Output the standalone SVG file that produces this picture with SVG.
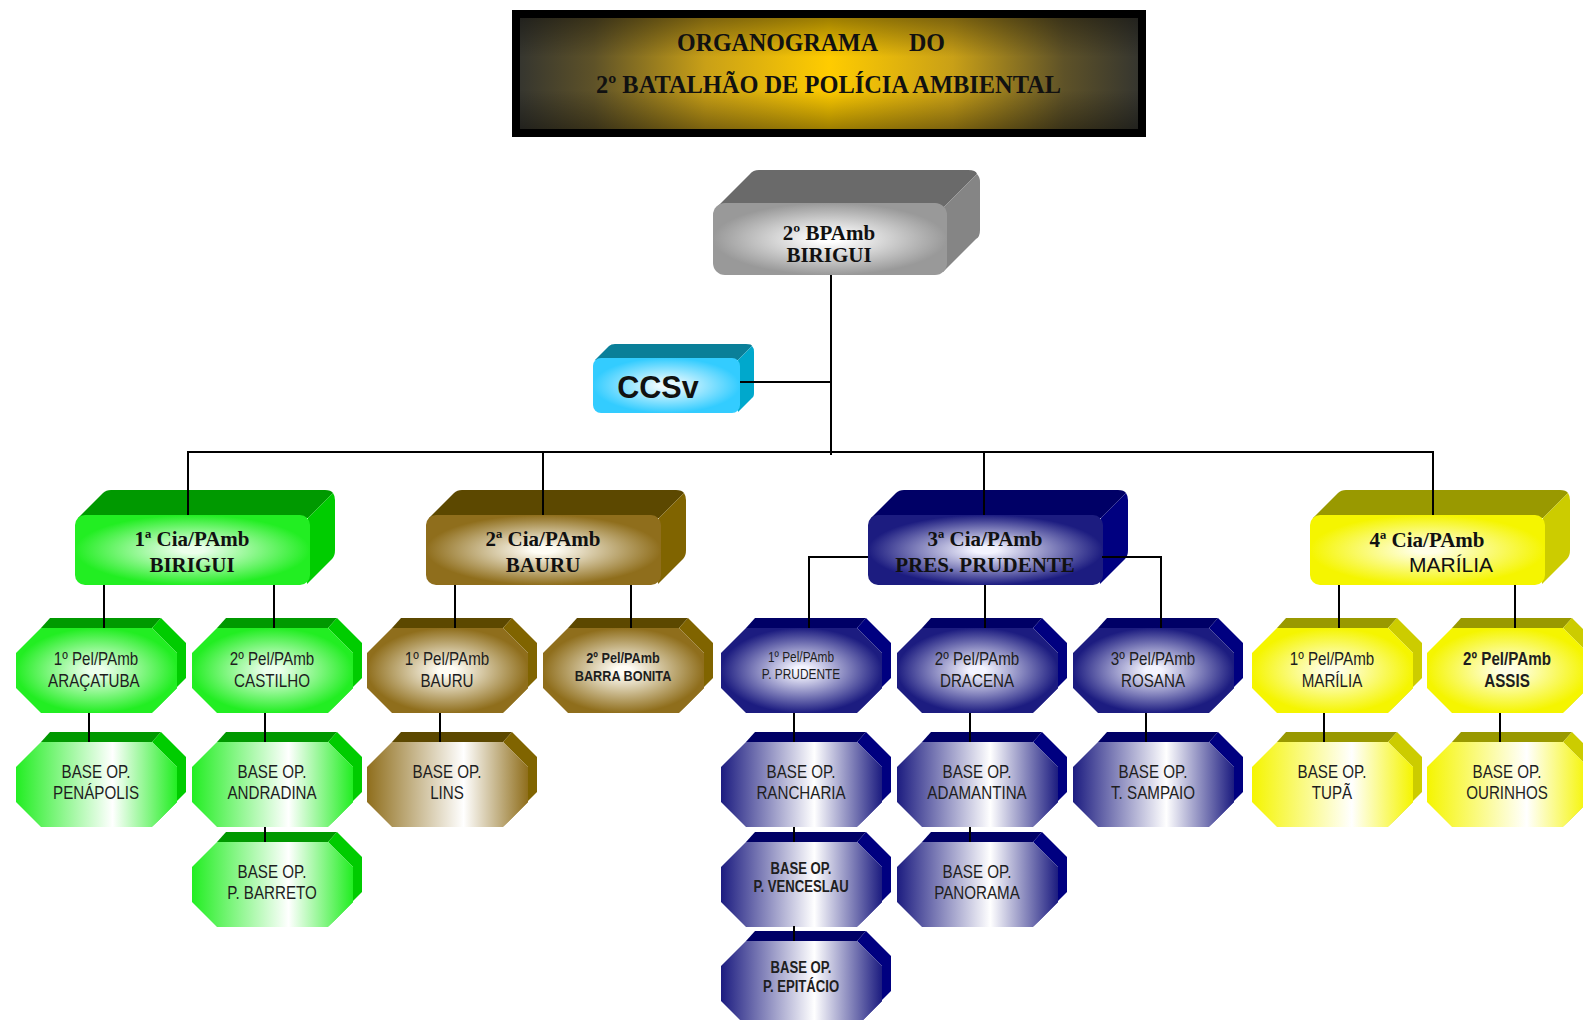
<svg xmlns="http://www.w3.org/2000/svg" width="1583" height="1020" viewBox="0 0 1583 1020">
<defs>
<style>
.serif{font-family:"Liberation Serif","Times New Roman",serif;font-weight:bold;fill:#111;text-anchor:middle}
.ttl{font-family:"Liberation Serif","Times New Roman",serif;font-weight:bold;fill:#111;font-size:25px}
.sans{font-family:"Liberation Sans",Arial,sans-serif;fill:#111;text-anchor:middle}
.nar{font-family:"Liberation Sans Narrow","Liberation Sans",Arial,sans-serif;font-size:18.5px;fill:#1e1e1e;text-anchor:middle}
.nar.sm{font-size:14.5px}
.nar.b{font-weight:bold}
.nar.m{font-size:15.5px}
.nar.l{font-size:16px}
.conn line,.conn polyline{stroke:#000;stroke-width:2;fill:none}
.gT{fill:#009900}.gR{fill:#00cc00}
.bT{fill:#5c4800}.bR{fill:#806400}
.nT{fill:#000066}.nR{fill:#000080}
.yT{fill:#999900}.yR{fill:#cccc00}
</style>
<linearGradient id="titleH" x1="0" y1="0" x2="1" y2="0">
<stop offset="0" stop-color="#36362f"/><stop offset="0.12" stop-color="#5e5228"/><stop offset="0.3" stop-color="#c9a017"/><stop offset="0.5" stop-color="#ffcc00"/><stop offset="0.7" stop-color="#c9a017"/><stop offset="0.88" stop-color="#5e5228"/><stop offset="1" stop-color="#36362f"/>
</linearGradient>
<linearGradient id="titleV" x1="0" y1="0" x2="0" y2="1">
<stop offset="0" stop-color="#000" stop-opacity="0.38"/><stop offset="0.35" stop-color="#000" stop-opacity="0"/><stop offset="0.65" stop-color="#000" stop-opacity="0"/><stop offset="1" stop-color="#000" stop-opacity="0.38"/>
</linearGradient>
<radialGradient id="grayR" cx="0.5" cy="0.5" r="0.5"><stop offset="0.1" stop-color="#ffffff"/><stop offset="1" stop-color="#999999"/></radialGradient>
<radialGradient id="cyanR" cx="0.5" cy="0.5" r="0.5"><stop offset="0.1" stop-color="#eefbff"/><stop offset="1" stop-color="#33ccff"/></radialGradient>
<radialGradient id="greenR" cx="0.5" cy="0.5" r="0.5"><stop offset="0.1" stop-color="#ecffec"/><stop offset="1" stop-color="#22ee22"/></radialGradient>
<radialGradient id="brownR" cx="0.5" cy="0.5" r="0.5"><stop offset="0.1" stop-color="#fffdf5"/><stop offset="1" stop-color="#8f6e1c"/></radialGradient>
<radialGradient id="navyR" cx="0.5" cy="0.5" r="0.5"><stop offset="0.1" stop-color="#f4f4ff"/><stop offset="1" stop-color="#1c1c80"/></radialGradient>
<radialGradient id="yellowR" cx="0.5" cy="0.5" r="0.5"><stop offset="0.1" stop-color="#ffffe6"/><stop offset="1" stop-color="#f5f500"/></radialGradient>
<linearGradient id="greenL" x1="0" y1="0" x2="1" y2="0"><stop offset="0" stop-color="#22ee22"/><stop offset="0.6" stop-color="#ffffff"/><stop offset="1" stop-color="#22ee22"/></linearGradient>
<linearGradient id="brownL" x1="0" y1="0" x2="1" y2="0"><stop offset="0" stop-color="#8f6e1c"/><stop offset="0.6" stop-color="#ffffff"/><stop offset="1" stop-color="#8f6e1c"/></linearGradient>
<linearGradient id="navyL" x1="0" y1="0" x2="1" y2="0"><stop offset="0" stop-color="#1c1c80"/><stop offset="0.58" stop-color="#ffffff"/><stop offset="1" stop-color="#1c1c80"/></linearGradient>
<linearGradient id="yellowL" x1="0" y1="0" x2="1" y2="0"><stop offset="0" stop-color="#f5f500"/><stop offset="0.62" stop-color="#ffffff"/><stop offset="1" stop-color="#f5f500"/></linearGradient>
<path id="oF" d="M25,0H136L161,25V60L136,85H25L0,60V25Z"/>
<path id="oT" d="M25,0L34,-10H145L136,0Z"/>
<path id="oR" d="M136,0L145,-10L170,15V50L145,75L136,85L161,60V25Z"/>
<rect id="cF" x="0" y="0" width="235" height="70" rx="10"/>
<path id="cT" d="M3,3L28,-22Q31,-25 36,-25H250Q256,-25 258,-22L233,3Z"/>
<path id="cR" d="M233,3L258,-22Q260,-19 260,-15V35Q260,41 257,44L232,69Z"/>
</defs>

<g id="title">
<rect x="512" y="10" width="634" height="127" fill="#000"/>
<rect x="520" y="18" width="618" height="111" fill="url(#titleH)"/>
<rect x="520" y="18" width="618" height="111" fill="url(#titleV)"/>
<text class="ttl" x="677" y="51" textLength="201" lengthAdjust="spacingAndGlyphs">ORGANOGRAMA</text>
<text class="ttl" x="909" y="51" textLength="36" lengthAdjust="spacingAndGlyphs">DO</text>
<text class="ttl" x="596" y="93" textLength="465" lengthAdjust="spacingAndGlyphs">2º BATALHÃO DE POLÍCIA AMBIENTAL</text>
</g>

<g id="bpamb" transform="translate(713,203)">
<path d="M4,4L37,-29Q40,-33 46,-33H255Q263,-33 264,-29L231,4Z" fill="#6a6a6a"/>
<path d="M231,4L264,-29Q267,-26 267,-21V27Q267,34 263,36L230,69Z" fill="#858585"/>
<rect width="234" height="72" rx="12" fill="url(#grayR)"/>
<text class="serif" x="116" y="37" font-size="21">2º BPAmb</text>
<text class="serif" x="116" y="59" font-size="21">BIRIGUI</text>
</g>

<g id="ccsv" transform="translate(593,358)">
<path d="M2,2L16,-12Q18,-14 22,-14H153Q159,-14 159,-12L145,2Z" fill="#0a7f99"/>
<path d="M145,2L159,-12Q161,-10 161,-6V35Q161,39 159,40L145,54Z" fill="#00a8cc"/>
<rect width="147" height="55" rx="8" fill="url(#cyanR)"/>
<text class="sans" x="65" y="40" font-size="30.5" font-weight="bold">CCSv</text>
</g>

<g id="cia1" transform="translate(75,515)">
<use href="#cT" class="gT"/><use href="#cR" class="gR"/><use href="#cF" fill="url(#greenR)"/>
<text class="serif" x="117" y="31" font-size="21">1ª Cia/PAmb</text>
<text class="serif" x="117" y="57" font-size="21">BIRIGUI</text>
</g>
<g id="cia2" transform="translate(426,515)">
<use href="#cT" class="bT"/><use href="#cR" class="bR"/><use href="#cF" fill="url(#brownR)"/>
<text class="serif" x="117" y="31" font-size="21">2ª Cia/PAmb</text>
<text class="serif" x="117" y="57" font-size="21">BAURU</text>
</g>
<g id="cia3" transform="translate(868,515)">
<use href="#cT" class="nT"/><use href="#cR" class="nR"/><use href="#cF" fill="url(#navyR)"/>
<text class="serif" x="117" y="31" font-size="21">3ª Cia/PAmb</text>
<text class="serif" x="117" y="57" font-size="21">PRES. PRUDENTE</text>
</g>
<g id="cia4" transform="translate(1310,515)">
<use href="#cT" class="yT"/><use href="#cR" class="yR"/><use href="#cF" fill="url(#yellowR)"/>
<text class="serif" x="117" y="32" font-size="21">4ª Cia/PAmb</text>
<text class="sans" x="141" y="57" font-size="21">MARÍLIA</text>
</g>

<!-- Green -->
<g id="pel-aracatuba" transform="translate(16,628)"><use href="#oT" class="gT"/><use href="#oR" class="gR"/><use href="#oF" fill="url(#greenR)"/>
<text class="nar" x="97.6" y="37" transform="scale(0.82 1)">1º Pel/PAmb</text><text class="nar" x="95" y="59" transform="scale(0.82 1)">ARAÇATUBA</text></g>
<g id="base-penapolis" transform="translate(16,742)"><use href="#oT" class="gT"/><use href="#oR" class="gR"/><use href="#oF" fill="url(#greenL)"/>
<text class="nar" x="97.6" y="36" transform="scale(0.82 1)">BASE OP.</text><text class="nar" x="97.6" y="57" transform="scale(0.82 1)">PENÁPOLIS</text></g>
<g id="pel-castilho" transform="translate(192,628)"><use href="#oT" class="gT"/><use href="#oR" class="gR"/><use href="#oF" fill="url(#greenR)"/>
<text class="nar" x="97.6" y="37" transform="scale(0.82 1)">2º Pel/PAmb</text><text class="nar" x="97.6" y="59" transform="scale(0.82 1)">CASTILHO</text></g>
<g id="base-andradina" transform="translate(192,742)"><use href="#oT" class="gT"/><use href="#oR" class="gR"/><use href="#oF" fill="url(#greenL)"/>
<text class="nar" x="97.6" y="36" transform="scale(0.82 1)">BASE OP.</text><text class="nar" x="97.6" y="57" transform="scale(0.82 1)">ANDRADINA</text></g>
<g id="base-pbarreto" transform="translate(192,842)"><use href="#oT" class="gT"/><use href="#oR" class="gR"/><use href="#oF" fill="url(#greenL)"/>
<text class="nar" x="97.6" y="36" transform="scale(0.82 1)">BASE OP.</text><text class="nar" x="97.6" y="57" transform="scale(0.82 1)">P. BARRETO</text></g>

<!-- Brown -->
<g id="pel-bauru" transform="translate(367,628)"><use href="#oT" class="bT"/><use href="#oR" class="bR"/><use href="#oF" fill="url(#brownR)"/>
<text class="nar" x="97.6" y="37" transform="scale(0.82 1)">1º Pel/PAmb</text><text class="nar" x="97.6" y="59" transform="scale(0.82 1)">BAURU</text></g>
<g id="base-lins" transform="translate(367,742)"><use href="#oT" class="bT"/><use href="#oR" class="bR"/><use href="#oF" fill="url(#brownL)"/>
<text class="nar" x="97.6" y="36" transform="scale(0.82 1)">BASE OP.</text><text class="nar" x="97.6" y="57" transform="scale(0.82 1)">LINS</text></g>
<g id="pel-barrabonita" transform="translate(543,628)"><use href="#oT" class="bT"/><use href="#oR" class="bR"/><use href="#oF" fill="url(#brownR)"/>
<text class="nar m b" x="97.6" y="35" transform="scale(0.82 1)">2º Pel/PAmb</text><text class="nar m b" x="97.6" y="53" transform="scale(0.82 1)">BARRA BONITA</text></g>

<!-- Navy -->
<g id="pel-pprudente" transform="translate(721,628)"><use href="#oT" class="nT"/><use href="#oR" class="nR"/><use href="#oF" fill="url(#navyR)"/>
<text class="nar sm" x="97.6" y="34" transform="scale(0.82 1)">1º Pel/PAmb</text><text class="nar sm" x="97.6" y="51.5" transform="scale(0.82 1)">P. PRUDENTE</text></g>
<g id="base-rancharia" transform="translate(721,742)"><use href="#oT" class="nT"/><use href="#oR" class="nR"/><use href="#oF" fill="url(#navyL)"/>
<text class="nar" x="97.6" y="36" transform="scale(0.82 1)">BASE OP.</text><text class="nar" x="97.6" y="57" transform="scale(0.82 1)">RANCHARIA</text></g>
<g id="base-pvenceslau" transform="translate(721,842)"><use href="#oT" class="nT"/><use href="#oR" class="nR"/><use href="#oF" fill="url(#navyL)"/>
<text class="nar l b" x="97.6" y="32" transform="scale(0.82 1)">BASE OP.</text><text class="nar l b" x="97.6" y="50.5" transform="scale(0.82 1)">P. VENCESLAU</text></g>
<g id="base-pepitacio" transform="translate(721,941)"><use href="#oT" class="nT"/><use href="#oR" class="nR"/><use href="#oF" fill="url(#navyL)"/>
<text class="nar l b" x="97.6" y="32.5" transform="scale(0.82 1)">BASE OP.</text><text class="nar l b" x="97.6" y="51.5" transform="scale(0.82 1)">P. EPITÁCIO</text></g>
<g id="pel-dracena" transform="translate(897,628)"><use href="#oT" class="nT"/><use href="#oR" class="nR"/><use href="#oF" fill="url(#navyR)"/>
<text class="nar" x="97.6" y="37" transform="scale(0.82 1)">2º Pel/PAmb</text><text class="nar" x="97.6" y="59" transform="scale(0.82 1)">DRACENA</text></g>
<g id="base-adamantina" transform="translate(897,742)"><use href="#oT" class="nT"/><use href="#oR" class="nR"/><use href="#oF" fill="url(#navyL)"/>
<text class="nar" x="97.6" y="36" transform="scale(0.82 1)">BASE OP.</text><text class="nar" x="97.6" y="57" transform="scale(0.82 1)">ADAMANTINA</text></g>
<g id="base-panorama" transform="translate(897,842)"><use href="#oT" class="nT"/><use href="#oR" class="nR"/><use href="#oF" fill="url(#navyL)"/>
<text class="nar" x="97.6" y="36" transform="scale(0.82 1)">BASE OP.</text><text class="nar" x="97.6" y="57" transform="scale(0.82 1)">PANORAMA</text></g>
<g id="pel-rosana" transform="translate(1073,628)"><use href="#oT" class="nT"/><use href="#oR" class="nR"/><use href="#oF" fill="url(#navyR)"/>
<text class="nar" x="97.6" y="37" transform="scale(0.82 1)">3º Pel/PAmb</text><text class="nar" x="97.6" y="59" transform="scale(0.82 1)">ROSANA</text></g>
<g id="base-tsampaio" transform="translate(1073,742)"><use href="#oT" class="nT"/><use href="#oR" class="nR"/><use href="#oF" fill="url(#navyL)"/>
<text class="nar" x="97.6" y="36" transform="scale(0.82 1)">BASE OP.</text><text class="nar" x="97.6" y="57" transform="scale(0.82 1)">T. SAMPAIO</text></g>

<!-- Yellow -->
<g id="pel-marilia" transform="translate(1252,628)"><use href="#oT" class="yT"/><use href="#oR" class="yR"/><use href="#oF" fill="url(#yellowR)"/>
<text class="nar" x="97.6" y="37" transform="scale(0.82 1)">1º Pel/PAmb</text><text class="nar" x="97.6" y="59" transform="scale(0.82 1)">MARÍLIA</text></g>
<g id="base-tupa" transform="translate(1252,742)"><use href="#oT" class="yT"/><use href="#oR" class="yR"/><use href="#oF" fill="url(#yellowL)"/>
<text class="nar" x="97.6" y="36" transform="scale(0.82 1)">BASE OP.</text><text class="nar" x="97.6" y="57" transform="scale(0.82 1)">TUPÃ</text></g>
<g id="pel-assis" transform="translate(1427,628)"><use href="#oT" class="yT"/><use href="#oR" class="yR"/><use href="#oF" fill="url(#yellowR)"/>
<text class="nar b" x="97.6" y="37" transform="scale(0.82 1)">2º Pel/PAmb</text><text class="nar b" x="97.6" y="59" transform="scale(0.82 1)">ASSIS</text></g>
<g id="base-ourinhos" transform="translate(1427,742)"><use href="#oT" class="yT"/><use href="#oR" class="yR"/><use href="#oF" fill="url(#yellowL)"/>
<text class="nar" x="97.6" y="36" transform="scale(0.82 1)">BASE OP.</text><text class="nar" x="97.6" y="57" transform="scale(0.82 1)">OURINHOS</text></g>

<g id="connectors" class="conn">
<line x1="831" y1="275" x2="831" y2="455"/>
<line x1="740" y1="382" x2="831" y2="382"/>
<line x1="187" y1="452" x2="1434" y2="452"/>
<line x1="188" y1="452" x2="188" y2="515"/>
<line x1="543" y1="452" x2="543" y2="515"/>
<line x1="984" y1="452" x2="984" y2="515"/>
<line x1="1433" y1="452" x2="1433" y2="515"/>
<line x1="104" y1="585" x2="104" y2="628"/>
<line x1="274" y1="585" x2="274" y2="628"/>
<line x1="89" y1="713" x2="89" y2="742"/>
<line x1="265" y1="713" x2="265" y2="742"/>
<line x1="265" y1="827" x2="265" y2="842"/>
<line x1="455" y1="585" x2="455" y2="628"/>
<line x1="631" y1="585" x2="631" y2="628"/>
<line x1="440" y1="713" x2="440" y2="742"/>
<polyline points="868,557 809,557 809,628"/>
<line x1="985" y1="585" x2="985" y2="628"/>
<polyline points="1102,557 1161,557 1161,628"/>
<line x1="794" y1="713" x2="794" y2="742"/>
<line x1="794" y1="827" x2="794" y2="842"/>
<line x1="794" y1="926" x2="794" y2="941"/>
<line x1="970" y1="713" x2="970" y2="742"/>
<line x1="970" y1="827" x2="970" y2="842"/>
<line x1="1146" y1="713" x2="1146" y2="742"/>
<line x1="1339" y1="585" x2="1339" y2="628"/>
<line x1="1515" y1="585" x2="1515" y2="628"/>
<line x1="1324" y1="713" x2="1324" y2="742"/>
<line x1="1500" y1="713" x2="1500" y2="742"/>
</g>
</svg>
